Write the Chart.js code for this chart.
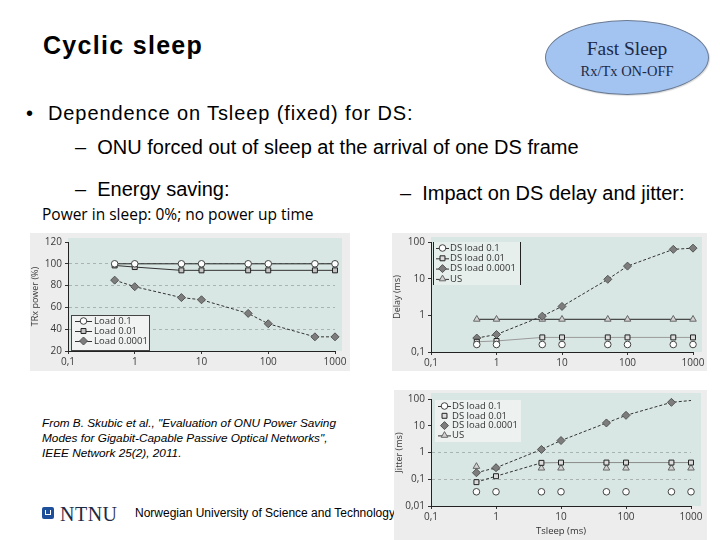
<!DOCTYPE html>
<html>
<head>
<meta charset="utf-8">
<script src="https://cdn.jsdelivr.net/npm/chart.js@4.4.1/dist/chart.umd.min.js"></script>
<style>
  html,body{margin:0;padding:0;background:#fff;}
  #page{position:relative;width:720px;height:540px;overflow:hidden;background:#fff;font-family:"Liberation Sans",Arial,sans-serif;color:#000;}
  .t{position:absolute;white-space:nowrap;line-height:1;}
  .cv{position:absolute;}
  #ell{position:absolute;left:545px;top:20px;width:164px;height:75px;border-radius:50%;background:#a3c4f0;border:1px solid #6a7a92;box-sizing:border-box;box-shadow:1px 1px 1px rgba(0,0,0,0.15);}
  .serif{font-family:"Liberation Serif","Times New Roman",serif;color:#1d2a48;}
</style>
</head>
<body>
<div id="page">
  <div class="t" style="left:43px;top:33px;font-size:25px;font-weight:bold;letter-spacing:1.3px;">Cyclic sleep</div>
  <div id="ell"></div>
  <div class="t serif" style="left:545px;width:164px;text-align:center;top:39px;font-size:19.5px;">Fast Sleep</div>
  <div class="t serif" style="left:545px;width:164px;text-align:center;top:64px;font-size:14.5px;">Rx/Tx ON-OFF</div>

  <div class="t" style="left:26px;top:103px;font-size:20px;">•</div>
  <div class="t" style="left:48px;top:103px;font-size:20px;letter-spacing:0.9px;">Dependence on Tsleep (fixed) for DS:</div>
  <div class="t" style="left:75px;top:137px;font-size:20px;">–&nbsp;&nbsp;ONU forced out of sleep at the arrival of one DS frame</div>
  <div class="t" style="left:75px;top:179px;font-size:20px;">–&nbsp;&nbsp;Energy saving:</div>
  <div class="t" style="left:400px;top:183px;font-size:20px;">–&nbsp;&nbsp;Impact on DS delay and jitter:</div>
  <div class="t" style="left:42px;top:207px;font-size:15.5px;font-family:'Open Sans',sans-serif;">Power in sleep: 0%; no power up time</div>

  <div class="t" style="left:42px;top:416px;font-size:11.8px;font-style:italic;line-height:15px;">From B. Skubic et al., "Evaluation of ONU Power Saving<br>Modes for Gigabit-Capable Passive Optical Networks",<br>IEEE Network 25(2), 2011.</div>

  <div style="position:absolute;left:42px;top:507px;width:12px;height:12px;background:#1d4f9a;border-radius:2px;"></div>
  <div style="position:absolute;left:45px;top:510px;width:6px;height:5px;border:1px solid #fff;border-top:none;box-sizing:border-box;"></div>
  <div class="t serif" style="left:60px;top:504px;font-size:20px;letter-spacing:0.5px;color:#1f2a44;">NTNU</div>
  <div class="t" style="left:135px;top:507px;font-size:12px;color:#000;">Norwegian University of Science and Technology</div>

  <canvas id="c1" class="cv" width="320" height="138" style="left:30px;top:233px;"></canvas>
  <canvas id="c2" class="cv" width="315" height="138" style="left:392px;top:233px;"></canvas>
  <canvas id="c3" class="cv" width="313" height="150" style="left:394px;top:390px;"></canvas>
</div>
<script>
// ---------------- data ----------------
const tsleepMs = [0.5, 1, 5, 10, 50, 100, 500, 1000];
const xTickValues = [0.1, 1, 10, 100, 1000];
const xTickLabels = ['0,1', '1', '10', '100', '1000'];

const powerLoad01     = [100, 100, 100, 100, 100, 100, 100, 100];
const powerLoad001    = [98.5, 97, 94, 94, 94, 94, 94, 94];
const powerLoad00001  = [85, 79, 69, 67, 54.5, 45, 33, 33];
const powerTickValues = [20, 40, 60, 80, 100, 120];

const delayDs01    = [0.16, 0.16, 0.16, 0.16, 0.16, 0.16, 0.16, 0.16];
const delayDs001   = [0.19, 0.2, 0.25, 0.25, 0.25, 0.25, 0.25, 0.25];
const delayDs00001 = [0.24, 0.3, 0.95, 1.75, 9.6, 22, 63, 68];
const delayUs      = [0.78, 0.78, 0.78, 0.78, 0.78, 0.78, 0.78, 0.78];
const delayTickValues = [0.1, 1, 10, 100];
const delayTickLabels = ['0,1', '1', '10', '100'];

const jitterDs01    = [0.034, 0.034, 0.034, 0.034, 0.034, 0.034, 0.034, 0.034];
const jitterDs001   = [0.078, 0.13, 0.41, 0.42, 0.42, 0.42, 0.42, 0.42];
const jitterDs00001 = [0.175, 0.27, 1.3, 2.8, 12.7, 24.5, 75, 88];
const jitterUs      = [0.3, 0.27, 0.26, 0.26, 0.26, 0.26, 0.26, 0.26];
const jitterTickValues = [0.01, 0.1, 1, 10, 100];
const jitterTickLabels = ['0,01', '0,1', '1', '10', '100'];

// ---------------- helpers ----------------
Chart.defaults.font.family = "'Open Sans', sans-serif";
Chart.defaults.color = '#3a3a3a';

const pts = (xs, ys) => xs.map((x, i) => ({x: x, y: ys[i]}));

const STY = {
  circle:  {pointStyle: 'circle',  pointBackgroundColor: '#ffffff', pointBorderColor: '#444', pointRadius: 3.3},
  square:  {pointStyle: 'rect',    pointBackgroundColor: '#c4c4c4', pointBorderColor: '#222', pointRadius: 3.5},
  diamond: {pointStyle: 'rectRot', pointBackgroundColor: '#7d7d7d', pointBorderColor: '#555', pointRadius: 4},
  tri:     {pointStyle: 'triangle',pointBackgroundColor: '#d2d2d2', pointBorderColor: '#666', pointRadius: 3.8}
};

function ds(label, xs, ys, sty, line) {
  return Object.assign({
    label: label, data: pts(xs, ys), pointBorderWidth: 1, clip: false,
    borderWidth: 1, tension: 0, fill: false, legendRadius: STY[sty].pointRadius
  }, STY[sty], line);
}

const panelBg = {
  id: 'panelBg',
  beforeDraw(chart, args, o) {
    const {ctx, chartArea: a} = chart;
    ctx.save();
    ctx.fillStyle = o.outer; ctx.fillRect(0, 0, chart.width, chart.height);
    ctx.fillStyle = o.plot;
    ctx.fillRect(a.left, a.top - o.extTop, a.right - a.left + o.extRight, a.bottom - a.top + o.extTop);
    ctx.restore();
  }
};

function marker(ctx, d, x, y) {
  ctx.save();
  ctx.fillStyle = d.pointBackgroundColor;
  ctx.strokeStyle = d.pointBorderColor;
  ctx.lineWidth = 1;
  ctx.setLineDash([]);
  const r = d.legendRadius;
  if (Chart.helpers && Chart.helpers.drawPoint) {
    Chart.helpers.drawPoint(ctx, {pointStyle: d.pointStyle, radius: r, borderWidth: 1, rotation: 0}, x, y);
  } else {
    ctx.beginPath(); ctx.arc(x, y, r, 0, Math.PI * 2); ctx.fill(); ctx.stroke();
  }
  ctx.restore();
}

const boxLegend = {
  id: 'boxLegend',
  afterDraw(chart, args, o) {
    const ctx = chart.ctx;
    ctx.save();
    if (o.bg) { ctx.fillStyle = o.bg; ctx.fillRect(o.x, o.y, o.w, o.h); }
    ctx.strokeStyle = o.borderColor || '#333';
    ctx.lineWidth = 1;
    if (o.border === 'box') ctx.strokeRect(o.x + 0.5, o.y + 0.5, o.w, o.h);
    if (o.border === 'sides') {
      ctx.beginPath();
      ctx.moveTo(o.x + 0.5, o.y); ctx.lineTo(o.x + 0.5, o.y + o.h);
      ctx.moveTo(o.x + o.w + 0.5, o.y); ctx.lineTo(o.x + o.w + 0.5, o.y + o.h);
      ctx.stroke();
    }
    ctx.font = "9.5px 'Open Sans', sans-serif";
    ctx.textBaseline = 'middle';
    chart.data.datasets.forEach((d, i) => {
      const cy = o.y + o.first + i * o.rowH;
      const mx = o.x + o.lineX + o.lineW / 2;
      if (o.lines[i]) {
        ctx.strokeStyle = '#333'; ctx.setLineDash([]);
        ctx.beginPath(); ctx.moveTo(o.x + o.lineX, cy + 0.5); ctx.lineTo(o.x + o.lineX + o.lineW, cy + 0.5); ctx.stroke();
      }
      marker(ctx, d, mx, cy);
      ctx.fillStyle = '#333';
      ctx.fillText(d.label, o.x + o.textX, cy);
    });
    ctx.restore();
  }
};

function logX(height, title) {
  return {
    type: 'logarithmic', min: 0.1, max: 1000,
    afterBuildTicks: s => { s.ticks = xTickValues.map(v => ({value: v})); },
    afterFit: s => { s.height = height; },
    ticks: {callback: (v, i) => xTickLabels[i], font: {size: 10}, color: '#3a3a3a', maxRotation: 0, autoSkip: false, padding: 2},
    grid: {drawOnChartArea: false, tickLength: 3, tickColor: '#333'},
    border: {color: '#222', width: 1},
    title: title ? {display: true, text: title, font: {size: 9.5}, color: '#333', padding: {top: 2, bottom: 3}} : {display: false}
  };
}

function yAxis(cfg) {
  return Object.assign({
    afterFit: s => { s.width = cfg.width; },
    ticks: {callback: (v, i) => cfg.labels[i], font: {size: 10}, color: '#3a3a3a', padding: 3, autoSkip: false},
    grid: {
      color: c => (cfg.gridAt.indexOf(c.tick && c.tick.value) >= 0 ? '#a9b3b1' : 'rgba(0,0,0,0)'),
      tickColor: '#333', tickLength: 3, lineWidth: 1
    },
    border: {color: '#222', width: 1, dash: [3, 3]},
    title: {display: true, text: cfg.title, font: {size: 9}, color: '#3a3a3a', padding: {top: 0, bottom: 0}}
  }, cfg.extra);
}

const common = {responsive: false, animation: false, devicePixelRatio: 1, events: []};

// ---------------- chart 1: energy ----------------
new Chart(document.getElementById('c1'), {
  type: 'line',
  data: {datasets: [
    ds('Load 0.1', tsleepMs, powerLoad01, 'circle', {borderColor: '#222'}),
    ds('Load 0.01', tsleepMs, powerLoad001, 'square', {borderColor: '#333'}),
    ds('Load 0.0001', tsleepMs, powerLoad00001, 'diamond', {borderColor: '#333', borderDash: [3, 2]})
  ]},
  options: Object.assign({}, common, {
    layout: {padding: {top: 7, right: 15, left: 0, bottom: 0}},
    scales: {
      x: logX(20, null),
      y: yAxis({width: 38, labels: powerTickValues.map(String), gridAt: [40, 60, 80, 100], title: 'TRx power (%)',
        extra: {type: 'linear', min: 20, max: 120,
          afterBuildTicks: s => { s.ticks = powerTickValues.map(v => ({value: v})); }}})
    },
    plugins: {
      legend: {display: false}, tooltip: {enabled: false},
      panelBg: {outer: '#ededed', plot: '#d8e7e3', extTop: 4, extRight: 7},
      boxLegend: {x: 41, y: 82, w: 78, h: 35, first: 6, rowH: 10, lineX: 4, lineW: 17, textX: 23,
        lines: [true, true, true], border: 'box', borderColor: '#444', bg: '#f1f3f2'}
    }
  }),
  plugins: [panelBg, boxLegend]
});

// ---------------- chart 2: delay ----------------
new Chart(document.getElementById('c2'), {
  type: 'line',
  data: {datasets: [
    ds('DS load 0.1', tsleepMs, delayDs01, 'circle', {showLine: false, borderColor: '#444'}),
    ds('DS load 0.01', tsleepMs, delayDs001, 'square', {borderColor: '#9a9a9a', pointBackgroundColor: '#dcdcdc'}),
    ds('DS load 0.0001', tsleepMs, delayDs00001, 'diamond', {borderColor: '#333', borderDash: [3, 2]}),
    ds('US', tsleepMs, delayUs, 'tri', {borderColor: '#222'})
  ]},
  options: Object.assign({}, common, {
    layout: {padding: {top: 8, right: 14, left: 0, bottom: 0}},
    scales: {
      x: logX(19, null),
      y: yAxis({width: 39, labels: delayTickLabels, gridAt: [], title: 'Delay (ms)',
        extra: {type: 'logarithmic', min: 0.1, max: 100,
          afterBuildTicks: s => { s.ticks = delayTickValues.map(v => ({value: v})); }}})
    },
    plugins: {
      legend: {display: false}, tooltip: {enabled: false},
      panelBg: {outer: '#ededed', plot: '#d8e7e3', extTop: 5, extRight: 9},
      boxLegend: {x: 41, y: 9, w: 87, h: 43, first: 6, rowH: 10.3, lineX: 3, lineW: 13, textX: 17,
        lines: [true, true, true, true], border: 'sides', borderColor: '#222', bg: '#e6efec'}
    }
  }),
  plugins: [panelBg, boxLegend]
});

// ---------------- chart 3: jitter ----------------
new Chart(document.getElementById('c3'), {
  type: 'line',
  data: {datasets: [
    ds('DS load 0.1', tsleepMs, jitterDs01, 'circle', {showLine: false, borderColor: '#444'}),
    ds('DS load 0.01', tsleepMs, jitterDs001, 'square', {borderColor: '#777', pointBackgroundColor: '#dcdcdc',
      segment: {borderDash: c => (c.p0DataIndex < 2 ? [3, 2] : undefined), borderColor: c => (c.p0DataIndex < 2 ? '#333' : '#8a8a8a')}}),
    ds('DS load 0.0001', tsleepMs, jitterDs00001, 'diamond', {borderColor: '#333', borderDash: [3, 2],
      pointRadius: c => (c.dataIndex === tsleepMs.length - 1 ? 0 : 4)}),
    ds('US', tsleepMs, jitterUs, 'tri', {showLine: false, borderColor: '#444'})
  ]},
  options: Object.assign({}, common, {
    layout: {padding: {top: 9, right: 16, left: 0, bottom: 0}},
    scales: {
      x: logX(34, 'Tsleep (ms)'),
      y: yAxis({width: 37, labels: jitterTickLabels, gridAt: [0.1, 1], title: 'Jitter (ms)',
        extra: {type: 'logarithmic', min: 0.01, max: 100,
          afterBuildTicks: s => { s.ticks = jitterTickValues.map(v => ({value: v})); }}})
    },
    plugins: {
      legend: {display: false}, tooltip: {enabled: false},
      panelBg: {outer: '#ededed', plot: '#d8e7e3', extTop: 6, extRight: 10},
      boxLegend: {x: 41, y: 10, w: 86, h: 42, first: 6, rowH: 9.8, lineX: 3, lineW: 13, textX: 17,
        lines: [true, false, false, true], border: 'none', bg: '#edf2f0'}
    }
  }),
  plugins: [panelBg, boxLegend]
});
</script>
</body>
</html>
